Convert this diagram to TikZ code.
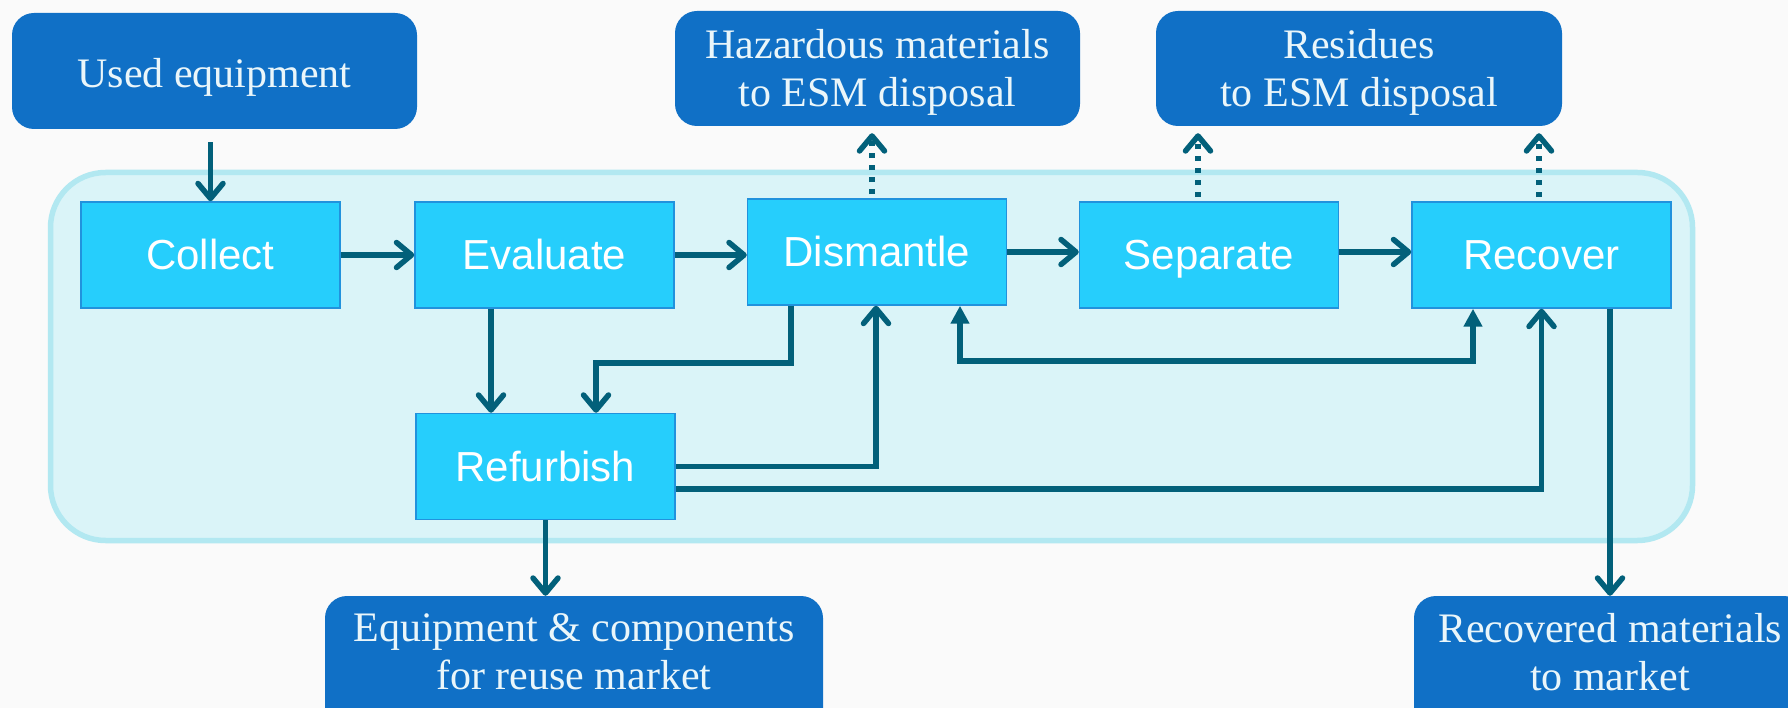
\documentclass[tikz,border=0pt]{standalone}
\usepackage{fontspec}
\setmainfont{Liberation Serif}
\newfontfamily\stepsans{Liberation Sans}
\usetikzlibrary{arrows.meta}

\definecolor{pagebg}{HTML}{FAFAFA}
\definecolor{outbox}{HTML}{1070C6}
\definecolor{outtext}{HTML}{EAF6FA}
\definecolor{stepfill}{HTML}{26CEFC}
\definecolor{stepline}{HTML}{2192DD}
\definecolor{panelfill}{HTML}{DAF4F8}
\definecolor{panelline}{HTML}{B2E8F1}
\definecolor{flow}{HTML}{02607A}

\begin{document}
\begin{tikzpicture}[x=1pt,y=-1pt,
  outnode/.style={fill=outbox, rounded corners=22pt, text=outtext,
    font=\fontsize{42}{48}\selectfont, align=center, inner sep=0pt},
  stepnode/.style={fill=stepfill, draw=stepline, line width=1.5pt, text=white,
    font=\stepsans\fontsize{42}{48}\selectfont, minimum width=259pt,
    minimum height=106pt, text height=30pt, text depth=0pt, inner sep=0pt},
  panel/.style={fill=panelfill, draw=panelline, line width=5.5pt, rounded corners=55pt},
  flowline/.style={draw=flow, line width=5.5pt},
  barb/.style={-{Straight Barb[length=15pt,width=25pt,line cap=round,line join=round]}},
  bothtri/.style={{Triangle[length=18pt,width=18pt]}-{Triangle[length=18pt,width=18pt]}},
  dotline/.style={dash pattern=on 5pt off 7pt}
]
% page and clipping frame
\useasboundingbox (0,0) rectangle (1788,708);
\fill[pagebg] (0,0) rectangle (1788,708);
\clip (0,0) rectangle (1788,708);

% process panel
\node[panel, minimum width=1642pt, minimum height=368pt] (panelbox) at (871.5,356.5) {};

% inputs and outputs
\node[outnode, minimum width=405pt, minimum height=116pt, text height=34pt, text depth=0pt]
  (used) at (214.5,71) {Used equipment};
\node[outnode, minimum width=405pt, minimum height=115pt, text depth=2pt]
  (haz) at (877.5,68.5) {Hazardous materials\\to ESM disposal};
\node[outnode, minimum width=406pt, minimum height=115pt, text depth=2pt]
  (res) at (1359,68.5) {Residues\\to ESM disposal};
\node[outnode, minimum width=498pt, minimum height=160pt, text depth=48pt]
  (equip) at (574,676) {Equipment \& components\\for reuse market};
\node[outnode, minimum width=392pt, minimum height=160pt, text depth=48pt]
  (recmat) at (1610,676) {Recovered materials\\to market};

% process steps
\node[stepnode] (collect)   at (210.5,255)  {Collect};
\node[stepnode] (evaluate)  at (544.5,255)  {Evaluate};
\node[stepnode] (dismantle) at (877,252)    {Dismantle};
\node[stepnode] (separate)  at (1209,255)   {Separate};
\node[stepnode] (recover)   at (1541.5,255) {Recover};
\node[stepnode] (refurbish) at (545.5,466.5) {Refurbish};

% routing points
\coordinate (evx) at (491,0);
\coordinate (dmx) at (791,0);
\coordinate (rfj) at (596,363);
\coordinate (upx) at (876,0);
\coordinate (fbl) at (960,361);
\coordinate (fbr) at (1473,0);
\coordinate (mkx) at (1610,0);

% main flow
\draw[flowline, barb, shorten <=13pt] (collect.north |- used.south) -- (collect.north);
\draw[flowline, barb] (collect.east) -- (evaluate.west);
\draw[flowline, barb] (evaluate.east) -- (evaluate.east -| dismantle.west);
\draw[flowline, barb] (dismantle.east) -- (dismantle.east -| separate.west);
\draw[flowline, barb] ([yshift=3pt]separate.east) -- ([yshift=3pt]separate.east -| recover.west);

% branches
\draw[flowline, barb] (evaluate.south -| evx) -- (refurbish.north -| evx);
\draw[flowline, barb] (dismantle.south -| dmx) |- (rfj) -- (refurbish.north -| rfj);
\draw[flowline, barb] (refurbish.east) -| (dismantle.south -| upx);
\draw[flowline, barb] ([yshift=-22.5pt]refurbish.east) -| (recover.south);
\draw[flowline, bothtri] (dismantle.south -| fbl) |- (fbl -| fbr) -- (recover.south -| fbr);

% outputs
\draw[flowline, barb] (refurbish.south) -- (refurbish.south |- equip.north);
\draw[flowline, barb] (recover.south -| mkx) -- (recmat.north -| mkx);

% disposal streams
\draw[flowline, dotline, barb, shorten <=4pt, shorten >=7pt]
  ([xshift=-5pt]dismantle.north) -- ([xshift=-5pt]dismantle.north |- haz.south);
\draw[flowline, dotline, barb, shorten <=4pt, shorten >=7pt]
  ([xshift=-11pt]separate.north) -- ([xshift=-11pt]separate.north |- res.south);
\draw[flowline, dotline, barb, shorten <=4pt, shorten >=7pt]
  ([xshift=-2.5pt]recover.north) -- ([xshift=-2.5pt]recover.north |- res.south);
\end{tikzpicture}
\end{document}
